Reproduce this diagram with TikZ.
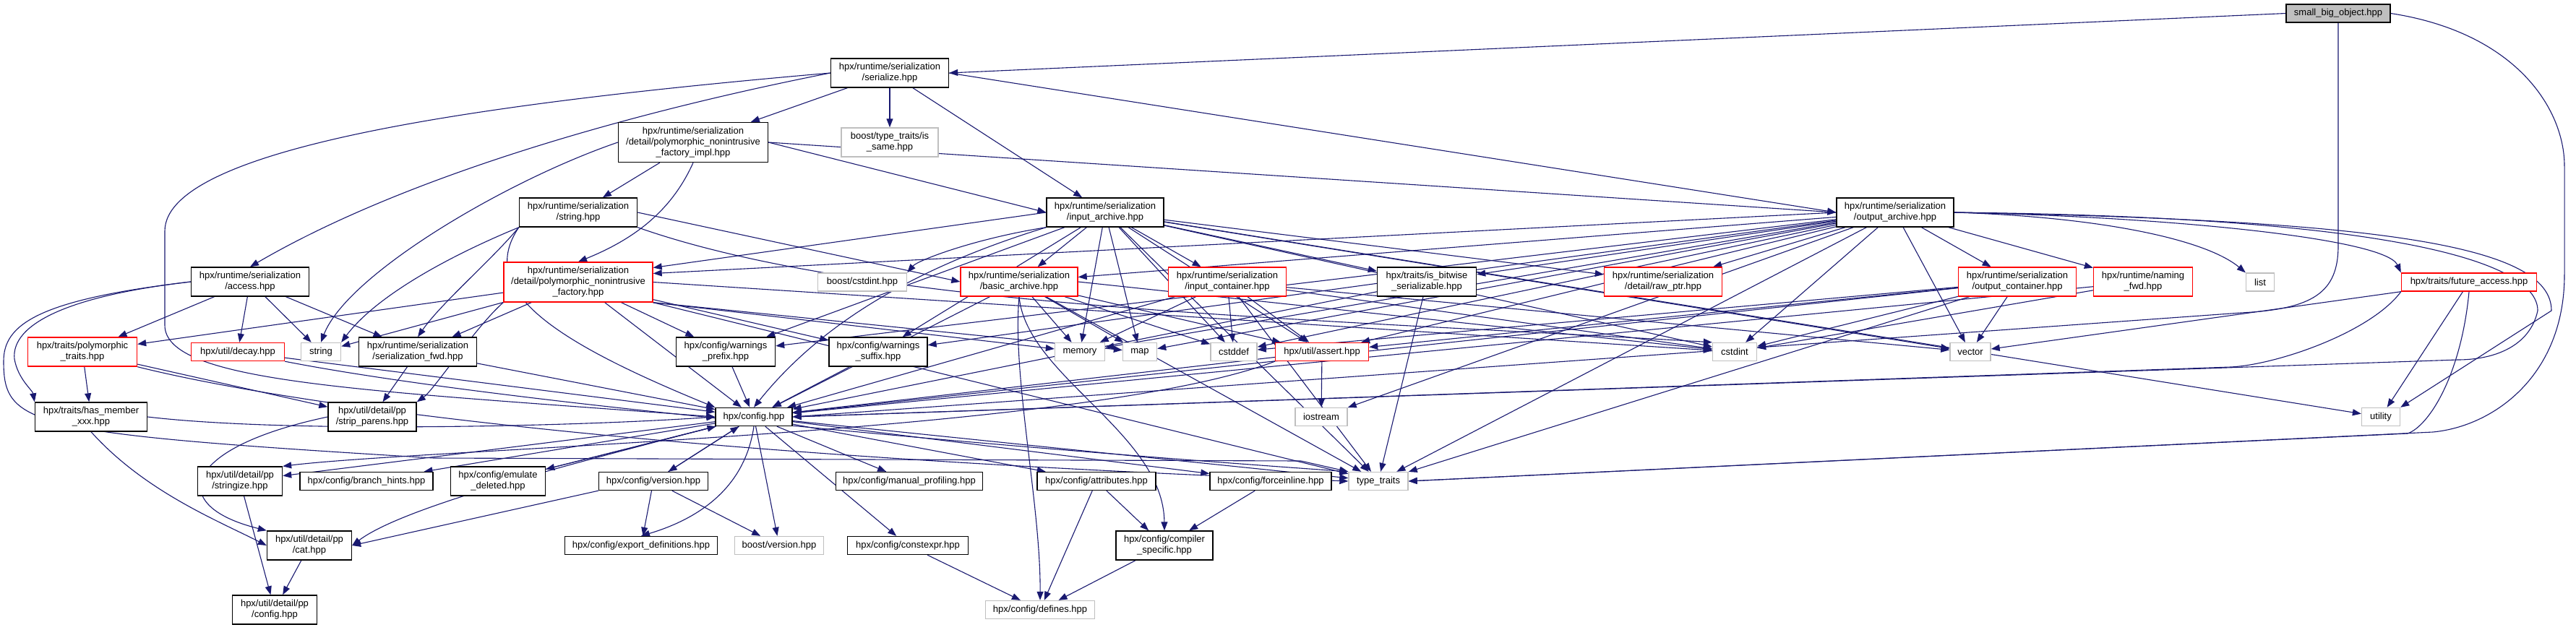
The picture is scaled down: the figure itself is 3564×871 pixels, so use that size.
\documentclass[tikz,border=0pt]{standalone}
\usepackage{fontspec}
\setmainfont{Liberation Sans}
\usetikzlibrary{arrows.meta}
\definecolor{edgeblue}{HTML}{191970}
\definecolor{extgray}{HTML}{BFBFBF}
\definecolor{sbofill}{HTML}{BFBFBF}
\definecolor{trunc}{HTML}{FF0000}
\pgfdeclarelayer{edges}
\pgfsetlayers{edges,main}
\tikzset{
 nd/.style={rectangle, draw=black, line width=1.4pt, fill=white, inner sep=0pt, align=center, font=\fontsize{13pt}{15pt}\selectfont},
 tr/.style={nd, draw=trunc},
 ex/.style={nd, draw=extgray},
 e/.style={draw=edgeblue, line width=1.1pt, -{Triangle[length=12pt,width=9pt]}},
}
\begin{document}
\begin{tikzpicture}[x=1pt,y=-1pt]
\useasboundingbox (0,0) rectangle (3564,871);
% ---------- nodes
\node[nd, fill=sbofill, minimum width=144pt, minimum height=25pt] (sbo) at (3235,18.5) {small\_big\_object.hpp};
\node[nd, minimum width=163pt, minimum height=40pt] (serialize) at (1231,101) {hpx/runtime/serialization\\/serialize.hpp};
\node[nd, minimum width=207pt, minimum height=55pt] (fimpl) at (959,197) {hpx/runtime/serialization\\/detail/polymorphic\_nonintrusive\\\_factory\_impl.hpp};
\node[ex, minimum width=134pt, minimum height=40pt] (issame) at (1231,197) {boost/type\_traits/is\\\_same.hpp};
\node[nd, minimum width=163pt, minimum height=40pt] (strhpp) at (800,294) {hpx/runtime/serialization\\/string.hpp};
\node[nd, minimum width=162pt, minimum height=40pt] (iarch) at (1529,294) {hpx/runtime/serialization\\/input\_archive.hpp};
\node[nd, minimum width=162pt, minimum height=40pt] (oarch) at (2622,294) {hpx/runtime/serialization\\/output\_archive.hpp};
\node[nd, minimum width=163pt, minimum height=40pt] (access) at (346,390) {hpx/runtime/serialization\\/access.hpp};
\node[tr, minimum width=206pt, minimum height=55pt] (fact) at (800,390.5) {hpx/runtime/serialization\\/detail/polymorphic\_nonintrusive\\\_factory.hpp};
\node[ex, minimum width=123pt, minimum height=25pt] (bcstdint) at (1193,390.5) {boost/cstdint.hpp};
\node[tr, minimum width=162pt, minimum height=40pt] (barch) at (1410,390) {hpx/runtime/serialization\\/basic\_archive.hpp};
\node[tr, minimum width=163pt, minimum height=40pt] (icont) at (1698,390) {hpx/runtime/serialization\\/input\_container.hpp};
\node[nd, minimum width=137pt, minimum height=40pt] (bitw) at (1974,390) {hpx/traits/is\_bitwise\\\_serializable.hpp};
\node[tr, minimum width=163pt, minimum height=40pt] (rawptr) at (2301,390) {hpx/runtime/serialization\\/detail/raw\_ptr.hpp};
\node[tr, minimum width=163pt, minimum height=40pt] (ocont) at (2791,390) {hpx/runtime/serialization\\/output\_container.hpp};
\node[tr, minimum width=137pt, minimum height=40pt] (nfwd) at (2965,390) {hpx/runtime/naming\\\_fwd.hpp};
\node[ex, minimum width=39pt, minimum height=25pt] (list) at (3127,390.5) {list};
\node[tr, minimum width=187pt, minimum height=25pt] (fut) at (3416,390.5) {hpx/traits/future\_access.hpp};
\node[tr, minimum width=151pt, minimum height=40pt] (ptraits) at (114,487) {hpx/traits/polymorphic\\\_traits.hpp};
\node[tr, minimum width=129pt, minimum height=25pt] (decay) at (329,487) {hpx/util/decay.hpp};
\node[ex, minimum width=55pt, minimum height=25pt] (string) at (444,487) {string};
\node[nd, minimum width=163pt, minimum height=40pt] (sfwd) at (578,487) {hpx/runtime/serialization\\/serialization\_fwd.hpp};
\node[nd, minimum width=137pt, minimum height=40pt] (wpre) at (1004,487) {hpx/config/warnings\\\_prefix.hpp};
\node[nd, minimum width=136pt, minimum height=40pt] (wsuf) at (1215,487) {hpx/config/warnings\\\_suffix.hpp};
\node[ex, minimum width=69pt, minimum height=25pt] (memory) at (1494,487) {memory};
\node[ex, minimum width=47pt, minimum height=25pt] (map) at (1577,487) {map};
\node[ex, minimum width=64pt, minimum height=25pt] (cstddef) at (1707,487) {cstddef};
\node[tr, minimum width=129pt, minimum height=25pt] (assert) at (1829,487) {hpx/util/assert.hpp};
\node[ex, minimum width=61pt, minimum height=25pt] (cstdint) at (2400,487) {cstdint};
\node[ex, minimum width=56pt, minimum height=25pt] (vector) at (2726,487) {vector};
\node[nd, minimum width=155pt, minimum height=40pt] (hasmem) at (126,577) {hpx/traits/has\_member\\\_xxx.hpp};
\node[nd, minimum width=122pt, minimum height=40pt] (strip) at (515,577) {hpx/util/detail/pp\\/strip\_parens.hpp};
\node[nd, minimum width=106pt, minimum height=25pt] (config) at (1043,577) {hpx/config.hpp};
\node[ex, minimum width=72pt, minimum height=25pt] (iostream) at (1828,577) {iostream};
\node[ex, minimum width=53pt, minimum height=25pt] (utility) at (3294,577) {utility};
\node[nd, minimum width=117pt, minimum height=40pt] (stringize) at (332,666) {hpx/util/detail/pp\\/stringize.hpp};
\node[nd, minimum width=184pt, minimum height=25pt] (branch) at (507,666) {hpx/config/branch\_hints.hpp};
\node[nd, minimum width=131pt, minimum height=40pt] (emul) at (689,666) {hpx/config/emulate\\\_deleted.hpp};
\node[nd, minimum width=151pt, minimum height=25pt] (version) at (904,666) {hpx/config/version.hpp};
\node[nd, minimum width=203pt, minimum height=25pt] (manprof) at (1258,666) {hpx/config/manual\_profiling.hpp};
\node[nd, minimum width=164pt, minimum height=25pt] (attr) at (1517,666) {hpx/config/attributes.hpp};
\node[nd, minimum width=168pt, minimum height=25pt] (force) at (1758,666) {hpx/config/forceinline.hpp};
\node[ex, minimum width=82pt, minimum height=25pt] (ttraits) at (1907,666) {type\_traits};
\node[nd, minimum width=117pt, minimum height=40pt] (cat) at (428,755) {hpx/util/detail/pp\\/cat.hpp};
\node[nd, minimum width=211pt, minimum height=25pt] (expdef) at (887,755) {hpx/config/export\_definitions.hpp};
\node[ex, minimum width=123pt, minimum height=25pt] (bversion) at (1078,755) {boost/version.hpp};
\node[nd, minimum width=167pt, minimum height=25pt] (cexpr) at (1256,755) {hpx/config/constexpr.hpp};
\node[nd, minimum width=134pt, minimum height=40pt] (compspec) at (1611,755) {hpx/config/compiler\\\_specific.hpp};
\node[nd, minimum width=117pt, minimum height=40pt] (ppconfig) at (380,844) {hpx/util/detail/pp\\/config.hpp};
\node[ex, minimum width=151pt, minimum height=25pt] (defines) at (1439,844) {hpx/config/defines.hpp};
% ---------- edges
\begin{pgfonlayer}{edges}
% small_big_object
\draw[e] (sbo.west) -- (serialize.east);
\draw[e] (sbo.south) -- (3235,340) .. controls (3235,405) and (3200,428) .. (3100,433) -- (config.east);
\draw[e] (sbo.east) .. controls (3480,45) and (3548,150) .. (3548,230) -- (3548,380) .. controls (3548,520) and (3450,590) .. (3366,598) -- (ttraits.east);
% serialize
\draw[e] (serialize.west) .. controls (850,160) and (550,250) .. (access.north);
\draw[e] (serialize) -- (fimpl);
\draw[e] (serialize) -- (issame);
\draw[e] (serialize) -- (iarch);
\draw[e] (serialize.east) -- (oarch.west);
\draw[e] (serialize.west) .. controls (700,140) and (228,200) .. (228,320) -- (228,450) .. controls (228,530) and (500,540) .. (config.west);
% factory_impl
\draw[e] (fimpl) -- (strhpp);
\draw[e] (fimpl.south) .. controls (930,290) and (880,330) .. (fact.north);
\draw[e] (fimpl.east) -- (iarch.west);
\draw[e] (fimpl.east) -- (oarch.west);
\draw[e] (fimpl.west) .. controls (700,250) and (480,380) .. (string.north);
% string.hpp
\draw[e] (strhpp.south west) .. controls (620,355) and (520,410) .. (string.north east);
\draw[e] (strhpp.south west) .. controls (680,360) and (610,420) .. (sfwd.north);
\draw[e] (strhpp.south west) .. controls (660,400) and (760,470) .. (config.north west);
\draw[e] (strhpp.east) -- (barch.west);
\draw[e] (strhpp.south east) .. controls (1200,427) and (1800,440) .. (cstdint.north west);
% access
\draw[e] (access) -- (ptraits);
\draw[e] (access) -- (decay);
\draw[e] (access) -- (string);
\draw[e] (access) -- (sfwd);
\draw[e] (access.west) .. controls (90,410) and (15,450) .. (20,497) .. controls (25,525) and (45,540) .. (hasmem.north west);
\draw[e] (access.west) .. controls (50,415) and (5,450) .. (5,500) .. controls (5,590) and (40,600) .. (600,634) -- (1800,638) -- (ttraits.north west);
% factory
\draw[e] (fact) -- (ptraits);
\draw[e] (fact) -- (string);
\draw[e] (fact) -- (sfwd);
\draw[e] (fact.south west) .. controls (660,450) and (600,540) .. (strip.north east);
\draw[e] (fact) -- (config);
\draw[e] (fact) -- (wpre);
\draw[e] (fact) -- (wsuf);
\draw[e] (fact.south east) -- (memory);
\draw[e] (fact.south east) -- (map);
\draw[e] (fact.south east) -- (ttraits);
\draw[e] (fact.east) -- (cstdint);
% input_archive
\draw[e] (iarch) -- (barch);
\draw[e] (iarch) -- (icont);
\draw[e] (iarch.west) -- ([yshift=20pt]fact.east);
\draw[e] (iarch.south west) .. controls (1350,330) and (1270,360) .. (bcstdint.north east);
\draw[e] (iarch) -- (rawptr);
\draw[e] (iarch) -- (bitw);
\draw[e] (iarch) -- (assert);
\draw[e] (iarch.south west) .. controls (1300,360) and (1150,430) .. (config.north);
\draw[e] (iarch) -- (wpre);
\draw[e] (iarch) -- (wsuf);
\draw[e] (iarch) -- (memory);
\draw[e] (iarch) -- (map);
\draw[e] (iarch) -- (cstddef);
\draw[e] (iarch) -- (cstdint);
\draw[e] (iarch) -- (vector);
\draw[e] (iarch) -- (ttraits);
\draw[e] (iarch) -- (utility);
% output_archive
\draw[e] (oarch) -- (barch);
\draw[e] (oarch.west) -- ([yshift=12pt]fact.east);
\draw[e] (oarch) -- (rawptr);
\draw[e] (oarch) -- (ocont);
\draw[e] (oarch) -- (nfwd);
\draw[e] (oarch) -- (bitw);
\draw[e] (oarch.east) .. controls (3000,300) and (3300,330) .. (fut.north west);
\draw[e] (oarch.east) .. controls (2900,300) and (3050,330) .. (list.north west);
\draw[e] (oarch) -- (assert);
\draw[e] (oarch.east) .. controls (3300,300) and (3511,360) .. (3511,430) .. controls (3500,480) and (3450,498) .. (3400,498) -- (config.east);
\draw[e] (oarch.east) .. controls (3300,305) and (3530,340) .. (3530,430) -- (utility.north east);
\draw[e] (oarch) -- (wpre);
\draw[e] (oarch) -- (wsuf);
\draw[e] (oarch) -- (memory);
\draw[e] (oarch) -- (map);
\draw[e] (oarch) -- (cstddef);
\draw[e] (oarch) -- (cstdint);
\draw[e] (oarch) -- (vector);
\draw[e] (oarch) -- (ttraits);
\draw[e] (oarch) -- (iostream);
% basic_archive
\draw[e] (barch) -- (config);
\draw[e] (barch) -- (map);
\draw[e] (barch) -- (memory);
\draw[e] (barch) -- (cstddef);
\draw[e] (barch.east) -- (cstdint);
\draw[e] (barch) -- (assert);
\draw[e] (barch) -- (ttraits);
\draw[e] (barch.south) .. controls (1400,520) and (1440,700) .. (defines.north);
\draw[e] (barch.south) .. controls (1420,520) and (1610,600) .. (compspec.north);
% input_container
\draw[e] (icont) -- (config);
\draw[e] (icont) -- (assert);
\draw[e] (icont) -- (cstddef);
\draw[e] (icont) -- (memory);
\draw[e] (icont) -- (cstdint);
\draw[e] (icont) -- (vector);
\draw[e] (icont) -- (ttraits);
% output_container
\draw[e] (ocont) -- (config);
\draw[e] (ocont) -- (assert);
\draw[e] (ocont) -- (cstddef);
\draw[e] (ocont) -- (cstdint);
\draw[e] (ocont) -- (vector);
\draw[e] (ocont) -- (ttraits);
% others upper
\draw[e] (bitw) -- (ttraits);
\draw[e] (bitw) -- (config);
\draw[e] (nfwd) -- (config);
\draw[e] (nfwd) -- (cstdint);
\draw[e] (fut.south west) .. controls (3280,460) and (3150,505) .. (3086,508) -- (config.east);
\draw[e] (fut.south) .. controls (3405,520) and (3360,590) .. (3331,600) -- (ttraits.east);
\draw[e] (fut) -- (utility);
\draw[e] (fut) -- (vector);
% middle row
\draw[e] (ptraits) -- (hasmem);
\draw[e] (ptraits) -- (strip);
\draw[e] (ptraits.south east) .. controls (400,560) and (900,630) .. (ttraits.west);
\draw[e] (decay) -- (config);
\draw[e] (decay.south east) .. controls (700,560) and (1400,620) .. (ttraits.north west);
\draw[e] (sfwd) -- (strip);
\draw[e] (sfwd) -- (config);
\draw[e] (hasmem.south) .. controls (200,680) and (300,720) .. (cat.west);
\draw[e] (hasmem.east) .. controls (400,600) and (800,590) .. (config.west);
\draw[e] (strip.west) .. controls (250,620) and (230,700) .. (cat.north west);
\draw[e] (wpre) -- (config);
\draw[e] (wsuf) -- (config);
\draw[e] (assert) -- (iostream);
\draw[e] (assert) -- (config);
\draw[e] (assert.south west) .. controls (1500,600) and (600,620) .. (stringize.north east);
% config
\draw[e] (config) -- (stringize);
\draw[e] (config.south west) .. controls (800,640) and (560,700) .. (cat.east);
\draw[e] (config) -- (branch);
\draw[e] (config) -- (emul);
\draw[e] (emul) -- (config);
\draw[e] (config) -- (version);
\draw[e] (version) -- (config);
\draw[e] (config) -- (manprof);
\draw[e] (config) -- (attr);
\draw[e] (config) -- (force);
\draw[e] (config.south) .. controls (1030,680) and (960,720) .. (expdef.north);
\draw[e] (config) -- (bversion);
\draw[e] (config) -- (cexpr);
\draw[e] (config) -- (ttraits);
% lower
\draw[e] (version) -- (expdef);
\draw[e] (version) -- (bversion);
\draw[e] (version.south west) -- (cat.east);
\draw[e] (stringize) -- (ppconfig);
\draw[e] (cat) -- (ppconfig);
\draw[e] (attr) -- (defines);
\draw[e] (attr) -- (compspec);
\draw[e] (force) -- (compspec);
\draw[e] (compspec) -- (defines);
\draw[e] (cexpr) -- (defines);
\end{pgfonlayer}
\end{tikzpicture}
\end{document}
